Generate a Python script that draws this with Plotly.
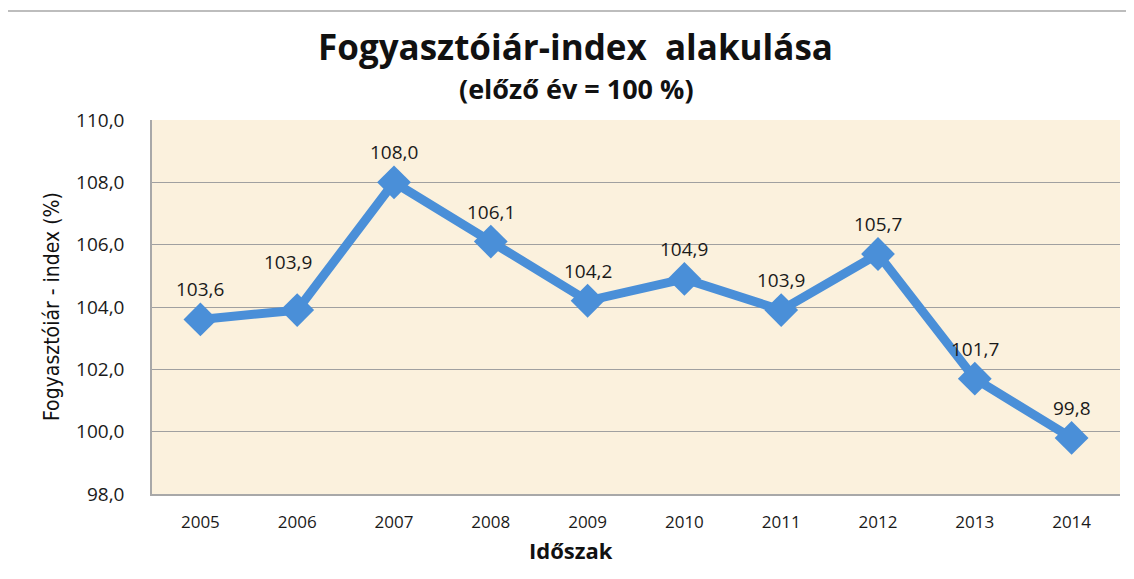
import plotly.graph_objects as go

years = ["2005", "2006", "2007", "2008", "2009", "2010", "2011", "2012", "2013", "2014"]
values = [103.6, 103.9, 108.0, 106.1, 104.2, 104.9, 103.9, 105.7, 101.7, 99.8]
labels = [f"{v:.1f}".replace(".", ",") for v in values]
y_ticks = [98, 100, 102, 104, 106, 108, 110]
y_tick_text = [f"{t:.1f}".replace(".", ",") for t in y_ticks]

FONT = "Open Sans"
BLUE = "#4A8FD8"

# page body has an 8px margin; the plot area should sit at x 152..1120, y 120..494 in the window
OFF = 8
L, R, T, B = 152 - OFF, 14, 120 - OFF, 85
W, H = 1134 - OFF, 579 - OFF
PW, PH = W - L - R, H - T - B

def px(xw):
    return (xw - OFF - L) / PW

def py(yw):
    return (H - B - (yw - OFF)) / PH

fig = go.Figure()
fig.add_trace(go.Scatter(
    x=years, y=values, mode="lines+markers",
    line=dict(color=BLUE, width=9),
    marker=dict(symbol="diamond", size=26, color=BLUE),
    showlegend=False, hoverinfo="skip",
))

# label placement (the 2006 label sits higher and a bit to the left, clear of the rising line)
label_shift = {1: (-9, 48)}
for i, (y, t) in enumerate(zip(values, labels)):
    xs, ys = label_shift.get(i, (0, 30))
    fig.add_annotation(x=i, y=y, xref="x", yref="y", text=t, showarrow=False,
                       xshift=xs, yshift=ys,
                       font=dict(family=FONT, size=19, color="#1a1a1a"))

fig.update_layout(
    width=W, height=H,
    margin=dict(l=L, r=R, t=T, b=B),
    paper_bgcolor="white",
    plot_bgcolor="#FBF1DD",
    font=dict(family=FONT, color="#1a1a1a"),
    xaxis=dict(type="category", range=[-0.5, 9.5], showgrid=False,
               showline=True, linecolor="#A8A8A8", linewidth=1.5,
               ticks="", tickfont=dict(size=17, family=FONT), ticklabelstandoff=12),
    yaxis=dict(range=[98, 110], tickvals=y_ticks, ticktext=y_tick_text,
               showgrid=True, gridcolor="#A0A0A0", gridwidth=1,
               showline=True, linecolor="#A8A8A8", linewidth=1.5,
               zeroline=False, ticks="", tickfont=dict(size=19, family=FONT),
               ticklabelstandoff=22),
)

# Titles
fig.add_annotation(xref="paper", yref="paper", x=px(575), y=py(46),
                   text="<b>Fogyasztóiár-index  alakulása</b>", showarrow=False,
                   font=dict(family=FONT, size=35, color="#111"), xanchor="center", yanchor="middle")
fig.add_annotation(xref="paper", yref="paper", x=px(576), y=py(89),
                   text="<b>(előző év = 100 %)</b>", showarrow=False,
                   font=dict(family=FONT, size=27, color="#111"), xanchor="center", yanchor="middle")
fig.add_annotation(xref="paper", yref="paper", x=px(571), y=py(550),
                   text="<b>Időszak</b>", showarrow=False,
                   font=dict(family=FONT, size=22, color="#111"), xanchor="center", yanchor="middle")
fig.add_annotation(xref="paper", yref="paper", x=px(52), y=py(307),
                   text="Fogyasztóiár - index (%)", showarrow=False, textangle=-90,
                   font=dict(family="DejaVu Sans Condensed, Liberation Sans, sans-serif", size=21, color="#111"),
                   xanchor="center", yanchor="middle")

# outer frame
fig.add_shape(type="rect", xref="paper", yref="paper",
              x0=px(7), x1=px(1160), y0=py(600), y1=py(11),
              line=dict(color="#A8A8A8", width=1.5), fillcolor="rgba(0,0,0,0)", layer="below")

fig.write_html("out.html")
